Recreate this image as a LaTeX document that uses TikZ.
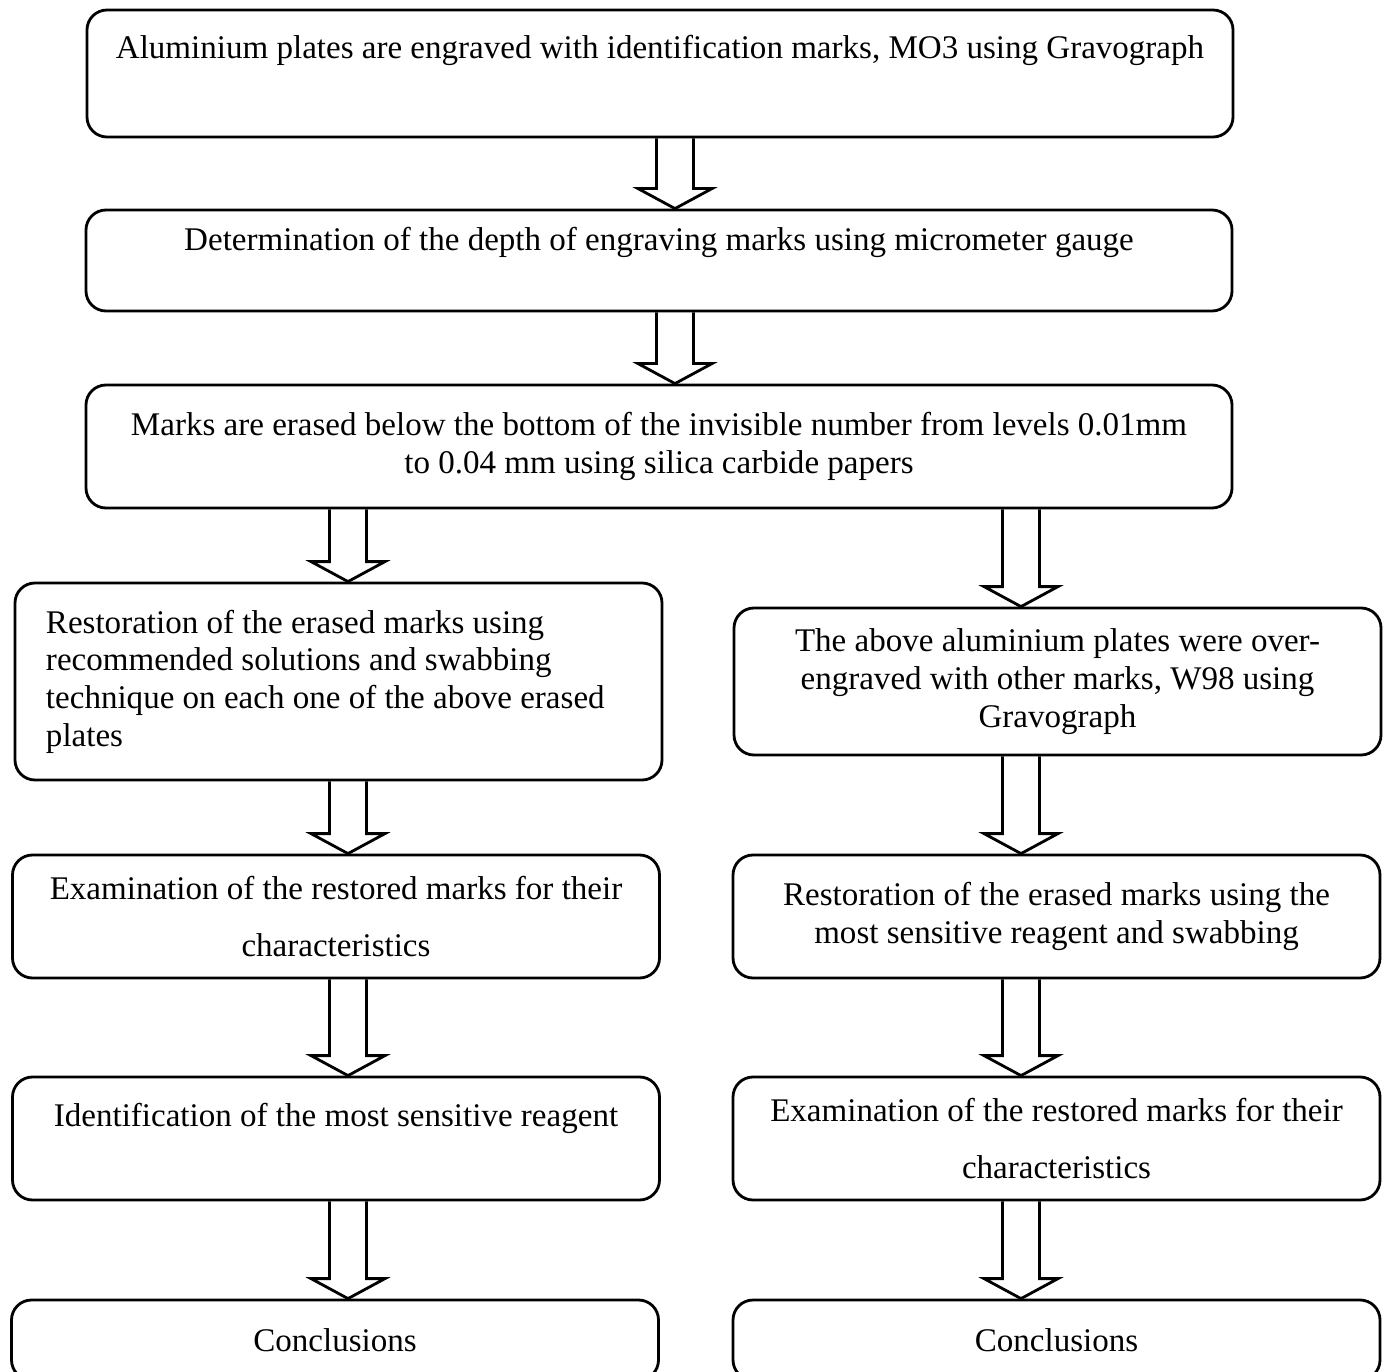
\documentclass[tikz,border=0pt]{standalone}
\usepackage{fontspec}
\setmainfont{Liberation Serif}
\usepackage{tikz}
\usetikzlibrary{positioning, calc}

% hollow block arrow: #1 start on the box above, #2 tip on the box below
\newcommand{\hollowarrow}[2]{%
  \draw[thick, line join=miter] ($(#1)+(-0.185,0)$) -- ($(#2)+(-0.185,0.2)$) -- ($(#2)+(-0.37,0.2)$)
    -- (#2) -- ($(#2)+(0.37,0.2)$) -- ($(#2)+(0.185,0.2)$) -- ($(#1)+(0.185,0)$);}

\begin{document}
\begin{tikzpicture}[
    every node/.style={font=\fontsize{9.4}{10.7}\selectfont},
    box/.style={draw, thick, rounded corners=2mm, align=center, inner sep=0pt},
    widebox/.style={box, minimum width=11.46cm},
    halfbox/.style={box, minimum width=6.47cm}]
    \useasboundingbox (0,0) rectangle (13.89,-13.72);

    % Top column
    \node[widebox, minimum height=1.27cm] (engrave) at (6.60,-0.735)
        {Aluminium plates are engraved with identification marks, MO3 using Gravograph\\[0.15cm]\mbox{}};
    \node[widebox, minimum height=1.01cm] (depth) at (6.59,-2.605)
        {Determination of the depth of engraving marks using micrometer gauge\\[0.05cm]\mbox{}};
    \node[widebox, minimum height=1.23cm] (erase) at (6.59,-4.465)
        {Marks are erased below the bottom of the invisible number from levels 0.01mm\\ to 0.04 mm using silica carbide papers};

    % Left branch
    \node[halfbox, minimum height=1.97cm, text width=5.85cm, inner xsep=0.31cm, align=flush left] (restoreL) at (3.385,-6.815)
        {Restoration of the erased marks using\\ recommended solutions and swabbing\\ technique on each one of the above erased\\ plates};
    \node[halfbox, minimum height=1.23cm] (examL) at (3.36,-9.165)
        {Examination of the restored marks for their\\[0.19cm] characteristics};
    \node[halfbox, minimum height=1.23cm] (ident) at (3.36,-11.385)
        {Identification of the most sensitive reagent\\[0.1cm]\mbox{}};
    \node[halfbox, minimum height=0.8cm] (conclL) at (3.35,-13.40) {Conclusions};

    % Right branch
    \node[halfbox, minimum height=1.47cm] (over) at (10.575,-6.815)
        {The above aluminium plates were over-\\engraved with other marks, W98 using\\ Gravograph};
    \node[halfbox, minimum height=1.23cm] (restoreR) at (10.565,-9.165)
        {Restoration of the erased marks using the\\ most sensitive reagent and swabbing};
    \node[halfbox, minimum height=1.23cm] (examR) at (10.565,-11.385)
        {Examination of the restored marks for their\\[0.19cm] characteristics};
    \node[halfbox, minimum height=0.8cm] (conclR) at (10.565,-13.40) {Conclusions};

    % Arrow columns
    \coordinate (xm) at (6.75,0);
    \coordinate (xl) at (3.48,0);
    \coordinate (xr) at (10.21,0);

    \hollowarrow{engrave.south -| xm}{depth.north -| xm}
    \hollowarrow{depth.south -| xm}{erase.north -| xm}
    \hollowarrow{erase.south -| xl}{restoreL.north -| xl}
    \hollowarrow{erase.south -| xr}{over.north -| xr}
    \hollowarrow{restoreL.south -| xl}{examL.north -| xl}
    \hollowarrow{examL.south -| xl}{ident.north -| xl}
    \hollowarrow{ident.south -| xl}{conclL.north -| xl}
    \hollowarrow{over.south -| xr}{restoreR.north -| xr}
    \hollowarrow{restoreR.south -| xr}{examR.north -| xr}
    \hollowarrow{examR.south -| xr}{conclR.north -| xr}
\end{tikzpicture}
\end{document}
